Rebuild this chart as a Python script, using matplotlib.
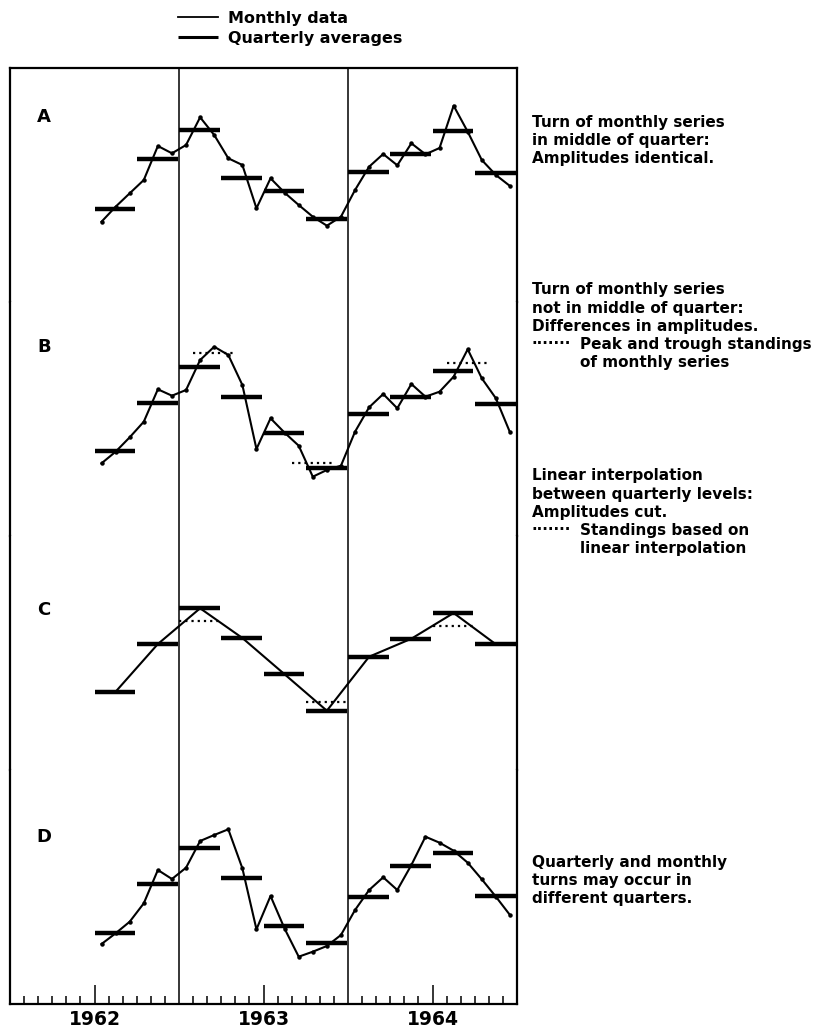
import numpy as np
import matplotlib.pyplot as plt

# Month index counted from January 1962; monthly series runs Jul 1962 - Dec 1964
months = np.arange(6, 36)
quarters = np.arange(2, 12)          # Q3 1962 .. Q4 1964
years = ["1962", "1963", "1964"]

monthly_a = [80.3, 95.3, 108.7, 122.0, 156.0, 148.7, 157.0, 184.7, 167.0, 143.7,
             137.0, 93.7, 123.7, 109.3, 97.0, 85.3, 76.3, 85.3, 112.0, 135.3,
             148.0, 136.7, 158.7, 147.7, 154.0, 196.3, 170.3, 142.0, 127.0, 116.0]
quarterly_a = [92.7, 142.7, 172.0, 123.7, 111.0, 82.7, 130.3, 148.0, 171.3, 128.7]

monthly_b = [72.7, 84.3, 98.7, 114.3, 146.7, 140.3, 146.0, 176.0, 189.3, 181.0,
             151.0, 87.0, 117.7, 103.3, 90.3, 59.3, 66.0, 70.3, 104.3, 128.7,
             142.0, 127.7, 152.0, 139.3, 144.3, 159.3, 186.7, 157.7, 137.7, 103.7]
quarterly_b = [85.3, 132.7, 169.3, 138.7, 103.3, 67.7, 122.0, 138.7, 165.0, 132.0]
standing_b_start = [13, 20, 31]
standing_b_end = [16, 23, 34]
standing_b_level = [182.7, 72.7, 173.3]

quarterly_c = [78.3, 126.0, 161.7, 132.0, 95.7, 59.3, 113.3, 131.3, 157.0, 125.7]
standing_c_start = [12, 21, 30]
standing_c_end = [15, 24, 33]
standing_c_level = [149.0, 68.3, 144.0]

monthly_d = [60.0, 70.7, 82.3, 100.7, 134.0, 125.0, 136.3, 163.0, 169.0, 174.7,
             135.7, 74.7, 108.0, 75.3, 47.3, 52.3, 58.0, 69.0, 94.0, 114.0,
             126.7, 114.0, 139.0, 167.3, 161.3, 153.3, 141.3, 124.7, 107.3, 89.0]
quarterly_d = [71.3, 119.7, 156.3, 126.3, 78.3, 60.7, 107.3, 138.3, 150.7, 108.0]

notes = {
    "A": ["Turn of monthly series", "in middle of quarter:", "Amplitudes identical."],
    "B": ["Turn of monthly series", "not in middle of quarter:",
          "Differences in amplitudes."],
    "C": ["Linear interpolation", "between quarterly levels:", "Amplitudes cut."],
    "D": ["Quarterly and monthly", "turns may occur in", "different quarters."],
}
dotted_notes = {
    "B": ["Peak and trough standings", "of monthly series"],
    "C": ["Standings based on", "linear interpolation"],
}

W, H = 830, 1033
fig = plt.figure(figsize=(W / 100, H / 100), dpi=100)

left, right = 10 / W, 517 / W
top, bottom = 1 - 68 / H, 1 - 1004 / H
ph = (top - bottom) / 4

mid = months + 0.5
qx = quarters * 3

TEXT = dict(fontsize=11, fontweight="bold")


def quarter_bars(ax, levels):
    return ax.hlines(levels, qx, qx + 2.9, colors="black", lw=3.2)


def monthly_line(ax, values):
    return ax.plot(mid, values, color="black", lw=1.5, marker="o", ms=2.2)[0]


axes = []
for i, key in enumerate("ABCD"):
    ax = fig.add_axes([left, top - (i + 1) * ph, right - left, ph])
    ax.set_xlim(0, 36)
    ax.set_ylim(0, 234)
    for s in ax.spines.values():
        s.set_linewidth(1.6)
        s.set_capstyle("projecting")
    if i > 0:
        ax.spines["top"].set_visible(False)
    if i < 3:
        ax.spines["bottom"].set_visible(False)
    ax.set_yticks([])
    ax.set_xticks([])
    for b in (12, 24):
        ax.axvline(b, color="black", lw=1.1)
    axes.append(ax)

ax_a, ax_b, ax_c, ax_d = axes

line_m = monthly_line(ax_a, monthly_a)
bars_q = quarter_bars(ax_a, quarterly_a)

monthly_line(ax_b, monthly_b)
quarter_bars(ax_b, quarterly_b)
ax_b.hlines(standing_b_level, standing_b_start, standing_b_end, colors="black",
            lw=1.6, linestyles=(0, (1, 1.8)))

# straight lines joining the quarterly levels at mid-quarter
ax_c.plot(qx + 1.5, quarterly_c, color="black", lw=1.5)
quarter_bars(ax_c, quarterly_c)
ax_c.hlines(standing_c_level, standing_c_start, standing_c_end, colors="black",
            lw=1.6, linestyles=(0, (1, 1.8)))

monthly_line(ax_d, monthly_d)
quarter_bars(ax_d, quarterly_d)

# panel letters
letter_pos = {"A": 117, "B": 347, "C": 610, "D": 837}
for key, y in letter_pos.items():
    fig.text(44 / W, 1 - y / H, key, fontsize=13, fontweight="bold",
             ha="center", va="center")

# explanatory notes on the right
note_top = {"A": 122, "B": 290, "C": 476, "D": 862}
step = 18
for key, lines in notes.items():
    y0 = note_top[key]
    for j, txt in enumerate(lines):
        fig.text(532 / W, 1 - (y0 + j * step) / H, txt, ha="left", va="center",
                 **TEXT)
    if key in dotted_notes:
        extra = dotted_notes[key]
        y1 = y0 + len(lines) * step
        fig.text(531 / W, 1 - y1 / H, "·······", ha="left", va="center", **TEXT)
        for j, txt in enumerate(extra):
            fig.text(580 / W, 1 - (y1 + j * step) / H, txt, ha="left",
                     va="center", **TEXT)

# month ticks along the bottom, years centred on each year
ax_d.set_xticks([6, 18, 30])
ax_d.set_xticklabels(years, fontsize=13.5, fontweight="bold")
ax_d.set_xticks([m for m in range(1, 36) if m % 12 != 0 and m % 6 != 0], minor=True)
ax_d.tick_params(axis="x", which="major", direction="in", length=14, width=1.1, pad=4)
ax_d.tick_params(axis="x", which="minor", direction="in", length=6, width=1.1)
ax_d.tick_params(axis="x", which="both", top=False)

fig.legend([line_m, bars_q], ["Monthly data", "Quarterly averages"],
           loc="upper left", bbox_to_anchor=(170 / W, 1 - 3 / H), frameon=False,
           prop=dict(size=11.5, weight="bold"), handlelength=2.5,
           handletextpad=0.6, labelspacing=0.3, borderpad=0)
leg = fig.legends[0]
leg.legend_handles[0].set_marker("")
leg.legend_handles[0].set_linewidth(1.3)
leg.legend_handles[1].set_linewidth(2.2)

fig.savefig("out.png", dpi=100)
